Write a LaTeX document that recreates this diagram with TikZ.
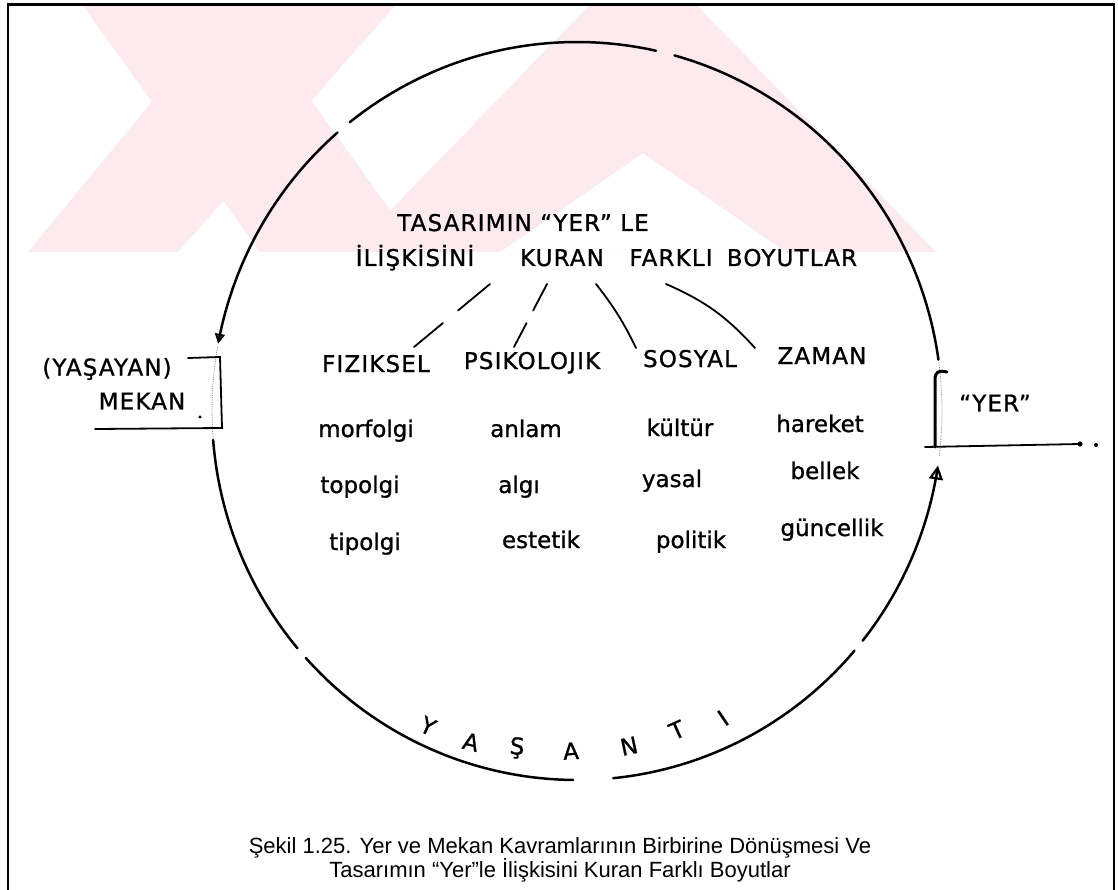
\documentclass[tikz,border=0pt]{standalone}
\usepackage{fontspec}
\setmainfont{Liberation Sans}
\newfontfamily\capsfont[LetterSpace=5,FakeBold=1]{DejaVu Sans}
\newfontfamily\handfont[FakeBold=1]{DejaVu Sans}
\usetikzlibrary{arrows.meta,calc}

\definecolor{wmark}{RGB}{253,234,238}

\tikzset{
  caps/.style={font=\capsfont\fontsize{23}{27}\selectfont, inner sep=0pt, anchor=base},
  word/.style={font=\handfont\fontsize{23}{27}\selectfont, inner sep=0pt, anchor=base},
  ring/.style={line width=2.5pt, line cap=round},
  faint/.style={line width=0.8pt, black!45, densely dotted},
  link/.style={line width=1.8pt, line cap=round},
  rim/.style={line width=2.4pt},
}

% one piece of the hand-drawn ring
\newcommand\ringpart[3][]{%
  \draw[ring,#1] plot[domain=#2:#3, samples=40, smooth]
    ({577+365*cos(\x)},{411+369*sin(\x)});}

\begin{document}
\begin{tikzpicture}[x=1pt,y=-1pt]
  \useasboundingbox (0,0) rectangle (1118,890);
  \fill[white] (0,0) rectangle (1118,890);

  % pale stamp in the top left corner
  \begin{scope}
    \clip (9,6) rectangle (1112,252);
    \fill[wmark] (79,0) -- (239,0) -- (420,252) -- (260,252) -- cycle;
    \fill[wmark] (236,0) -- (400,0) -- (178,252) -- (28,252) -- cycle;
    \fill[wmark, even odd rule] (350,252) -- (643,-50) -- (936,252) -- cycle
                                (500,252) -- (643,153) -- (786,252) -- cycle;
  \end{scope}

  % page frame
  \draw[rim] (8,890) -- (8,4.5) -- (1114,4.5) -- (1114,890);

  % the ring, going round against the clock
  \ringpart{352}{285.5}
  \ringpart{282.5}{231.5}
  \ringpart[-{Triangle[open,length=10pt,width=10pt,line width=1.8pt]}]{229}{190.5}
  \draw[faint] plot[domain=190:175.5, samples=10] ({577+365*cos(\x)},{411+369*sin(\x)});
  \ringpart{175.5}{140}
  \ringpart{138}{90.6}
  \ringpart{84.3}{40.5}
  \ringpart[-{Triangle[open,length=14pt,width=14pt,line width=2.2pt]}]{38.5}{8.5}
  \draw[faint] plot[domain=7:-7.6, samples=10] ({577+365*cos(\x)},{411+369*sin(\x)});

  % title
  \node[caps] (title1) at (523,231) {TASARIMIN “YER” LE};
  \node[caps] (ils) at (415,266) {İLİŞKİSİNİ};
  \node[caps] (kur) at (562,266) {KURAN};
  \node[caps] (far) at (671,266) {FARKLI};
  \node[caps] (boy) at (792,266) {BOYUTLAR};

  % the four dimensions
  \node[caps] (fiz) at (376,372) {FIZIKSEL};
  \node[caps] (psi) at (532,369) {PSIKOLOJIK};
  \node[caps] (sos) at (690,367) {SOSYAL};
  \node[caps] (zam) at (822,364) {ZAMAN};

  \node[word] (w11) at (366,437) {morfolgi};
  \node[word] (w12) at (360,493) {topolgi};
  \node[word] (w13) at (365,550) {tipolgi};
  \node[word] (w21) at (526,437) {anlam};
  \node[word] (w22) at (519,493) {algı};
  \node[word] (w23) at (541,548) {estetik};
  \node[word] (w31) at (680,436) {kültür};
  \node[word] (w32) at (672,487) {yasal};
  \node[word] (w33) at (691,548) {politik};
  \node[word] (w41) at (820,432) {hareket};
  \node[word] (w42) at (825,479) {bellek};
  \node[word] (w43) at (832,536) {güncellik};

  % links from the title
  \coordinate (a1) at (490,284); \coordinate (b1) at (414,347);
  \coordinate (a2) at (547,284); \coordinate (b2) at (514,347);
  \coordinate (a3) at (596,284); \coordinate (b3) at (636,348);
  \coordinate (a4) at (666,284); \coordinate (b4) at (755,348);
  \draw[link] (a1) -- ($(a1)!0.42!(b1)$) ($(a1)!0.62!(b1)$) -- (b1);
  \draw[link] (a2) -- ($(a2)!0.42!(b2)$) ($(a2)!0.62!(b2)$) -- (b2);
  \draw[link] (a3) to[bend left=6] (b3);
  \draw[link] (a4) to[bend left=12] (b4);

  % lived space, on the left
  \node[caps, anchor=center] (yas) at (107,369) {(YAŞAYAN)};
  \node[caps, anchor=center] (mek) at (142,401) {MEKAN};
  \draw[link] (188,358) -- (220,357) -- (222,428) -- (95,429);
  \fill (200,417) circle (1.6);

  % place, on the right
  \node[caps, anchor=center] (yer) at (995,403) {“YER”};
  \draw[line width=3pt, line cap=round] (947,372) .. controls (938,370) and (935,372) .. (935,380) -- (935,447);
  \draw[link] (925,447) -- (1080,444);
  \fill (1080,444) circle (2.6);
  \fill (1096,445) circle (2);

  % lived experience, along the bottom
  \foreach \ch/\px/\py/\rot in {Y/428/726/-25, A/471/742/-14, Ş/517/748/-4, A/571/751/3,
                                N/629/746/12, T/677/730/24, I/723/718/34} {
    \node[caps, anchor=center, rotate=\rot] at (\px,\py) {\ch};
  }

  % caption
  \node[font=\fontsize{22}{24}\selectfont, align=center] (cap) at (560,860)
    {Şekil 1.25. Yer ve Mekan Kavramlarının Birbirine Dönüşmesi Ve\\
     Tasarımın “Yer”le İlişkisini Kuran Farklı Boyutlar};
\end{tikzpicture}
\end{document}
